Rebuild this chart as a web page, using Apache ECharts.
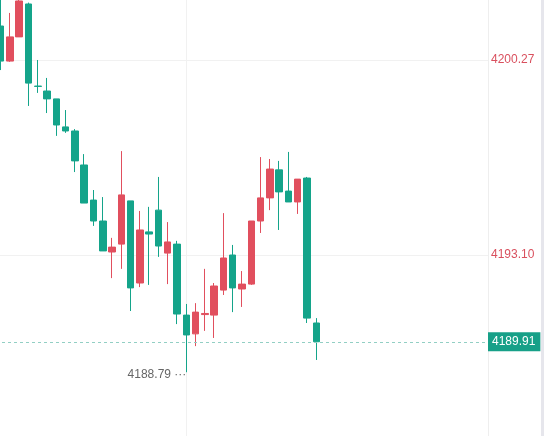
<!DOCTYPE html>
<html>
<head>
<meta charset="utf-8">
<script src="https://cdn.jsdelivr.net/npm/echarts@6/dist/echarts.min.js"></script>
<style>
html,body{margin:0;padding:0;background:#fff;overflow:hidden;width:544px;height:436px;}
#c{width:548px;height:436px;margin-left:-4px;}
</style>
</head>
<body>
<div id="c"></div>
<script>
// ---- data ----
// [open, close, low, high]
const candles = [
  [4201.52, 4200.23, 4199.90, 4202.66],
  [4200.23, 4201.12, 4200.20, 4202.00],
  [4201.12, 4202.44, 4201.12, 4202.55],
  [4202.33, 4199.42, 4198.58, 4202.38],
  [4199.31, 4199.30, 4199.06, 4200.27],
  [4199.13, 4198.84, 4198.32, 4199.61],
  [4198.84, 4197.88, 4197.48, 4198.84],
  [4197.81, 4197.66, 4197.59, 4198.43],
  [4197.66, 4196.56, 4196.15, 4197.73],
  [4196.41, 4195.01, 4195.01, 4196.81],
  [4195.12, 4194.35, 4194.17, 4195.49],
  [4194.35, 4193.25, 4193.25, 4195.23],
  [4193.21, 4193.39, 4192.25, 4193.73],
  [4193.50, 4195.31, 4192.59, 4196.92],
  [4195.09, 4191.89, 4191.04, 4195.09],
  [4192.07, 4194.02, 4191.92, 4194.72],
  [4193.95, 4193.87, 4192.00, 4194.87],
  [4194.75, 4193.43, 4193.03, 4195.97],
  [4193.17, 4193.58, 4192.03, 4194.31],
  [4193.50, 4190.93, 4190.56, 4193.62],
  [4190.89, 4190.16, 4188.79, 4191.30],
  [4190.20, 4191.00, 4189.75, 4191.33],
  [4190.91, 4190.95, 4190.31, 4192.59],
  [4190.89, 4191.96, 4190.05, 4192.07],
  [4191.81, 4192.99, 4191.63, 4194.64],
  [4193.10, 4191.89, 4191.00, 4193.47],
  [4191.85, 4192.03, 4191.19, 4192.51],
  [4192.03, 4194.35, 4192.00, 4194.35],
  [4194.35, 4195.20, 4193.91, 4196.70],
  [4195.20, 4196.26, 4194.75, 4196.63],
  [4196.23, 4195.42, 4194.02, 4196.56],
  [4195.45, 4195.05, 4195.05, 4196.89],
  [4195.05, 4195.89, 4194.61, 4195.89],
  [4195.93, 4190.78, 4190.60, 4195.97],
  [4190.60, 4189.91, 4189.24, 4190.78]
];
const slotCount = 53; // candles plus empty future slots
const categories = Array.from({length: slotCount}, (_, i) => 'K' + (i + 1));
const yTicks = [4193.10, 4200.27];
const lastPrice = 4189.91;
const lowLabel = 4188.79;
const gridCategory = categories[20];
const yMin = 4186.445;
const yMax = 4202.476;

const RED = '#e14f5e';
const GREEN = '#14a48a';

const chart = echarts.init(document.getElementById('c'), null, {renderer: 'canvas'});
chart.setOption({
  animation: false,
  backgroundColor: '#ffffff',
  textStyle: {fontFamily: 'Liberation Sans, Arial, sans-serif'},
  grid: {left: 0, right: 56, top: 0, bottom: 0},
  xAxis: {
    type: 'category',
    data: categories,
    boundaryGap: true,
    axisLine: {show: false},
    axisTick: {show: false},
    axisLabel: {show: false},
    splitLine: {show: false}
  },
  yAxis: {
    type: 'value',
    position: 'right',
    min: yMin,
    max: yMax,
    scale: true,
    axisLine: {show: true, lineStyle: {color: '#eeeeee', width: 1}},
    axisTick: {show: false},
    splitLine: {show: false},
    axisLabel: {
      customValues: yTicks,
      color: '#d9505e',
      fontSize: 12,
      margin: 3,
      formatter: v => v.toFixed(2)
    }
  },
  series: [{
    type: 'line',
    data: [],
    z: 0,
    silent: true,
    markLine: {
      silent: true,
      z: 0,
      symbol: ['none', 'none'],
      animation: false,
      data: [
        ...yTicks.map(v => ({yAxis: v, lineStyle: {color: '#f1f1f1', type: 'solid', width: 1}, label: {show: false}})),
        {xAxis: gridCategory, lineStyle: {color: '#f1f1f1', type: 'solid', width: 1}, label: {show: false}}
      ]
    }
  }, {
    type: 'candlestick',
    z: 3,
    data: candles.map(c => c.slice()),
    barWidth: 7,
    itemStyle: {
      color: RED,
      color0: GREEN,
      borderColor: RED,
      borderColor0: GREEN,
      borderWidth: 1
    },
    markLine: {
      silent: true,
      symbol: ['none', 'none'],
      animation: false,
      data: [
        {
          yAxis: lastPrice,
          lineStyle: {color: '#92cfc4', type: [3, 3], width: 1},
          label: {
            show: true,
            position: 'end',
            distance: 0,
            formatter: lastPrice.toFixed(2),
            color: '#ffffff',
            backgroundColor: '#17a088',
            padding: [4, 5, 3, 4],
            fontSize: 12
          }
        }
      ]
    },
    markPoint: {
      silent: true,
      symbol: 'circle',
      symbolSize: 0,
      animation: false,
      data: [{type: 'min', valueDim: 'lowest'}],
      label: {
        show: true,
        position: 'left',
        distance: 0,
        offset: [0, 2],
        color: '#666666',
        fontSize: 12,
        formatter: () => lowLabel.toFixed(2) + ' \u00b7\u00b7\u00b7'
      }
    }
  }],
  graphic: [{
    type: 'rect',
    shape: {x: 545, y: 0, width: 3, height: 436},
    style: {fill: '#e6e6ec'},
    silent: true
  }]
});
</script>
</body>
</html>
